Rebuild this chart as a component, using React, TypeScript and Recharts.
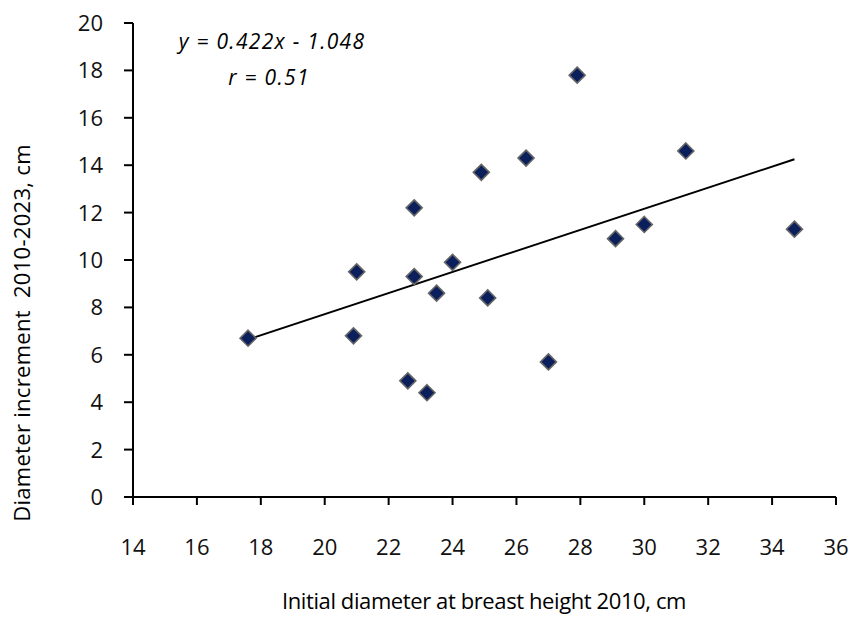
import React from "react";
import { ScatterChart, Scatter, XAxis, YAxis, ReferenceLine, Customized } from "recharts";

const initialDiameter = [17.6, 20.9, 21.0, 22.6, 22.8, 22.8, 23.2, 23.5, 24.0, 24.9, 25.1, 26.3, 27.0, 27.9, 29.1, 30.0, 31.3, 34.7];
const increment = [6.7, 6.8, 9.5, 4.9, 9.3, 12.2, 4.4, 8.6, 9.9, 13.7, 8.4, 14.3, 5.7, 17.8, 10.9, 11.5, 14.6, 11.3];
const xTicks = [14, 16, 18, 20, 22, 24, 26, 28, 30, 32, 34, 36];
const yTicks = [0, 2, 4, 6, 8, 10, 12, 14, 16, 18, 20];
const trendX = [17.6, 34.7];
const trendY = [6.65, 14.25];
const equationText = "y = 0.422x - 1.048";
const rText = "r = 0.51";

const data = initialDiameter.map((x, i) => ({ x, y: increment[i] }));

const FONT = "'Open Sans', sans-serif";

const Diamond = (props: any) => {
  const { cx, cy } = props;
  const r = 8;
  return (
    <polygon
      points={`${cx},${cy - r} ${cx + r},${cy} ${cx},${cy + r} ${cx - r},${cy}`}
      fill="#0a1f5c"
      stroke="#666666"
      strokeWidth={1.6}
    />
  );
};

const XTick = (props: any) => {
  const { x, y, payload } = props;
  return (
    <text x={x} y={y} dy="0.72em" textAnchor="middle" fontFamily={FONT} fontSize={22} fill="#111">
      {payload.value}
    </text>
  );
};

const YTick = (props: any) => {
  const { x, y, payload } = props;
  return (
    <text x={x} y={y} dy="0.36em" textAnchor="end" fontFamily={FONT} fontSize={22} fill="#111">
      {payload.value}
    </text>
  );
};

const Annotations = () => (
  <g fontFamily={FONT} fill="#000">
    <text x={272} y={49} textAnchor="middle" fontStyle="italic" fontSize={21} letterSpacing={1.3}>
      {equationText}
    </text>
    <text x={269} y={85} textAnchor="middle" fontStyle="italic" fontSize={21} letterSpacing={1.3}>
      {rText}
    </text>
    <text x={484} y={609} textAnchor="middle" fontSize={22} fontWeight={500} letterSpacing={-0.4}>
      Initial diameter at breast height 2010, cm
    </text>
    <text
      x={0}
      y={0}
      transform="translate(30, 333) rotate(-90)"
      textAnchor="middle"
      fontSize={22}
      fontWeight={500}
      letterSpacing={0.3}
      style={{ whiteSpace: "pre" }}
    >
      {"Diameter increment  2010-2023, cm"}
    </text>
  </g>
);

export default function App() {
  return (
    <div style={{ position: "absolute", left: 0, top: 0, background: "#fff", width: 851, height: 621 }}>
      <ScatterChart width={851} height={621} margin={{ top: 23, right: 15, left: 0, bottom: 0 }}>
        <XAxis
          type="number"
          dataKey="x"
          domain={[14, 36]}
          ticks={xTicks}
          allowDataOverflow
          height={124}
          tickSize={8}
          tickMargin={34}
          axisLine={{ stroke: "#000", strokeWidth: 2 }}
          tickLine={{ stroke: "#000", strokeWidth: 2 }}
          tick={<XTick />}
        />
        <YAxis
          type="number"
          dataKey="y"
          domain={[0, 20]}
          ticks={yTicks}
          allowDataOverflow
          width={133}
          tickSize={9}
          tickMargin={21}
          axisLine={{ stroke: "#000", strokeWidth: 2 }}
          tickLine={{ stroke: "#000", strokeWidth: 2 }}
          tick={<YTick />}
        />
        <ReferenceLine
          segment={[
            { x: trendX[0], y: trendY[0] },
            { x: trendX[1], y: trendY[1] },
          ]}
          stroke="#000"
          strokeWidth={2}
          ifOverflow="visible"
        />
        <Scatter data={data} shape={<Diamond />} isAnimationActive={false} />
        <Customized component={Annotations} />
      </ScatterChart>
    </div>
  );
}
